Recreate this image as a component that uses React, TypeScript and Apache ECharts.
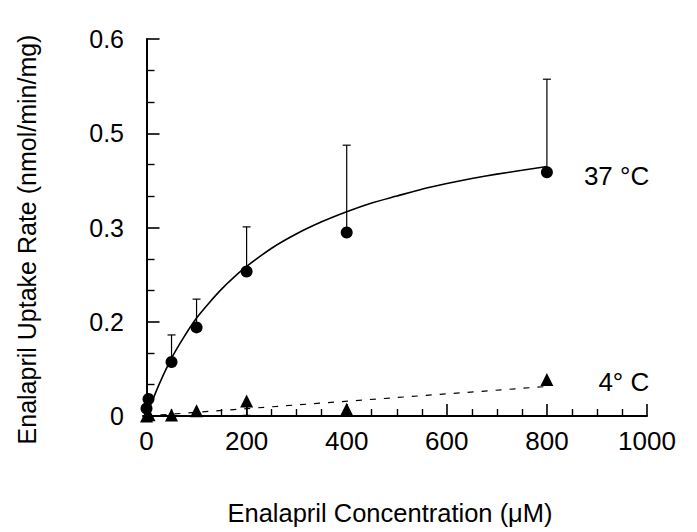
import React, { useEffect, useRef } from "react";
import * as echarts from "echarts";

// ---- data ----
const circleX = [0, 4, 50, 100, 200, 400, 800];
const circleY = [0.012, 0.027, 0.086, 0.141, 0.23, 0.292, 0.388];
const circleErrTop = [null, null, 0.129, 0.186, 0.301, 0.431, 0.536];

const triX = [0, 5, 50, 100, 200, 400, 800];
const triY = [0.0, 0.002, 0.0015, 0.0085, 0.024, 0.0107, 0.058];
const triErrLow = [null, null, null, null, 0.001, null, null];

// fitted (saturation) curve
const fitX = [0, 10, 25, 50, 75, 100, 125, 150, 175, 200, 250, 300, 350, 400, 450, 500, 550, 600, 650, 700, 750, 800];
const fitY = [0, 0.021, 0.05, 0.092, 0.126, 0.156, 0.18, 0.202, 0.221, 0.238, 0.267, 0.29, 0.309, 0.325, 0.339, 0.35, 0.361, 0.37, 0.378, 0.385, 0.391, 0.397];

const coldFitX = [0, 800];
const coldFitY = [0, 0.047];

const xMajorTicks = [0, 200, 400, 600, 800, 1000];
const xMinorTicks = [50, 100, 150, 250, 300, 350, 450, 500, 550, 650, 700, 750, 850, 900, 950];
const yTickLabels = ["0", "0.2", "0.3", "0.5", "0.6"];

const label37 = "37 °C";
const label4 = "4° C";

const FONT = "'Liberation Sans', Arial, Helvetica, sans-serif";
const INK = "#000";

export default function App() {
  const ref = useRef<HTMLDivElement>(null);

  useEffect(() => {
    if (!ref.current) return;
    const chart = echarts.init(ref.current, null, { renderer: "svg" });

    const mkLabel = (text: string, distance: number, offset: number[]) => ({
      show: true,
      position: "right",
      distance,
      offset,
      formatter: text,
      fontSize: 26,
      fontFamily: FONT,
      color: INK,
      opacity: 1,
    });

    const circleData = circleX.map((x, i) => {
      const item: any = { value: [x, circleY[i]] };
      if (i === circleX.length - 1) item.label = mkLabel(label37, 31, [0, 4]);
      return item;
    });
    const triData = triX.map((x, i) => {
      const item: any = { value: [x, triY[i]] };
      if (i === triX.length - 1) item.label = mkLabel(label4, 45, [0, 2]);
      return item;
    });

    const errData: any[] = [];
    circleX.forEach((x, i) => {
      if (circleErrTop[i] != null) errData.push([x, circleY[i], circleErrTop[i]]);
    });
    triX.forEach((x, i) => {
      if (triErrLow[i] != null) errData.push([x, triY[i], triErrLow[i]]);
    });

    const option: any = {
      animation: false,
      backgroundColor: "#fff",
      grid: { left: 143, right: 50, top: 39, bottom: 116, containLabel: false },
      xAxis: [
        {
          type: "value",
          min: -7,
          max: 1000,
          position: "bottom",
          name: "Enalapril Concentration (μM)",
          nameLocation: "middle",
          nameGap: 84,
          nameTextStyle: { fontSize: 25.5, fontFamily: FONT, color: INK, padding: [0, 0, 0, -10] },
          axisLine: { show: true, lineStyle: { color: INK, width: 2 } },
          axisTick: {
            show: true,
            inside: true,
            length: 12,
            customValues: xMajorTicks,
            lineStyle: { color: INK, width: 1.6 },
          },
          axisLabel: {
            show: true,
            customValues: xMajorTicks,
            margin: 12,
            fontSize: 26,
            fontFamily: FONT,
            color: INK,
            formatter: (v: number) => String(v),
          },
          splitLine: { show: false },
        },
        {
          type: "value",
          min: -7,
          max: 1000,
          position: "bottom",
          offset: 0,
          axisLine: { show: false },
          axisTick: {
            show: true,
            inside: true,
            length: 7,
            customValues: xMinorTicks,
            lineStyle: { color: INK, width: 1.4 },
          },
          axisLabel: { show: false },
          splitLine: { show: false },
        },
      ],
      yAxis: {
        type: "value",
        min: 0,
        max: 0.6,
        interval: 0.15,
        name: "Enalapril Uptake Rate (nmol/min/mg)",
        nameLocation: "middle",
        nameRotate: 90,
        nameGap: 104,
        nameTextStyle: { fontSize: 25, fontFamily: FONT, color: INK, padding: [0, 24, 0, 0] },
        axisLine: { show: true, lineStyle: { color: INK, width: 2 } },
        axisTick: { show: true, inside: true, length: 13, lineStyle: { color: INK, width: 1.6 } },
        minorTick: { show: true, splitNumber: 3, length: 8, lineStyle: { color: INK, width: 1.4 } },
        axisLabel: {
          margin: 19,
          fontSize: 25,
          fontFamily: FONT,
          color: INK,
          formatter: (_v: number, idx: number) => yTickLabels[idx] ?? "",
        },
        splitLine: { show: false },
        minorSplitLine: { show: false },
      },
      series: [
        {
          type: "custom",
          xAxisIndex: 0,
          z: 1,
          renderItem: (_params: any, api: any) => {
            const x = api.value(0);
            const from = api.coord([x, api.value(1)]);
            const to = api.coord([x, api.value(2)]);
            const st = { stroke: INK, lineWidth: 1.2 };
            return {
              type: "group",
              children: [
                { type: "line", shape: { x1: from[0], y1: from[1], x2: to[0], y2: to[1] }, style: st },
                { type: "line", shape: { x1: to[0] - 4, y1: to[1], x2: to[0] + 4, y2: to[1] }, style: st },
              ],
            };
          },
          data: errData,
        },
        {
          type: "line",
          xAxisIndex: 0,
          data: fitX.map((x, i) => [x, fitY[i]]),
          smooth: 0.2,
          showSymbol: false,
          lineStyle: { color: INK, width: 1.6 },
          z: 2,
        },
        {
          type: "line",
          xAxisIndex: 0,
          data: coldFitX.map((x, i) => [x, coldFitY[i]]),
          showSymbol: false,
          lineStyle: { color: INK, width: 1.2, type: [6, 8] },
          z: 2,
        },
        {
          type: "scatter",
          xAxisIndex: 0,
          symbol: "circle",
          symbolSize: 12,
          itemStyle: { color: INK, opacity: 1 },
          data: circleData,
          z: 3,
        },
        {
          type: "scatter",
          xAxisIndex: 0,
          symbol: "triangle",
          symbolSize: 13,
          itemStyle: { color: INK, opacity: 1 },
          data: triData,
          z: 3,
        },
      ],
    };

    chart.setOption(option);
    return () => chart.dispose();
  }, []);

  return <div ref={ref} style={{ width: 697, height: 532, position: "absolute", left: 0, top: 0 }} />;
}
